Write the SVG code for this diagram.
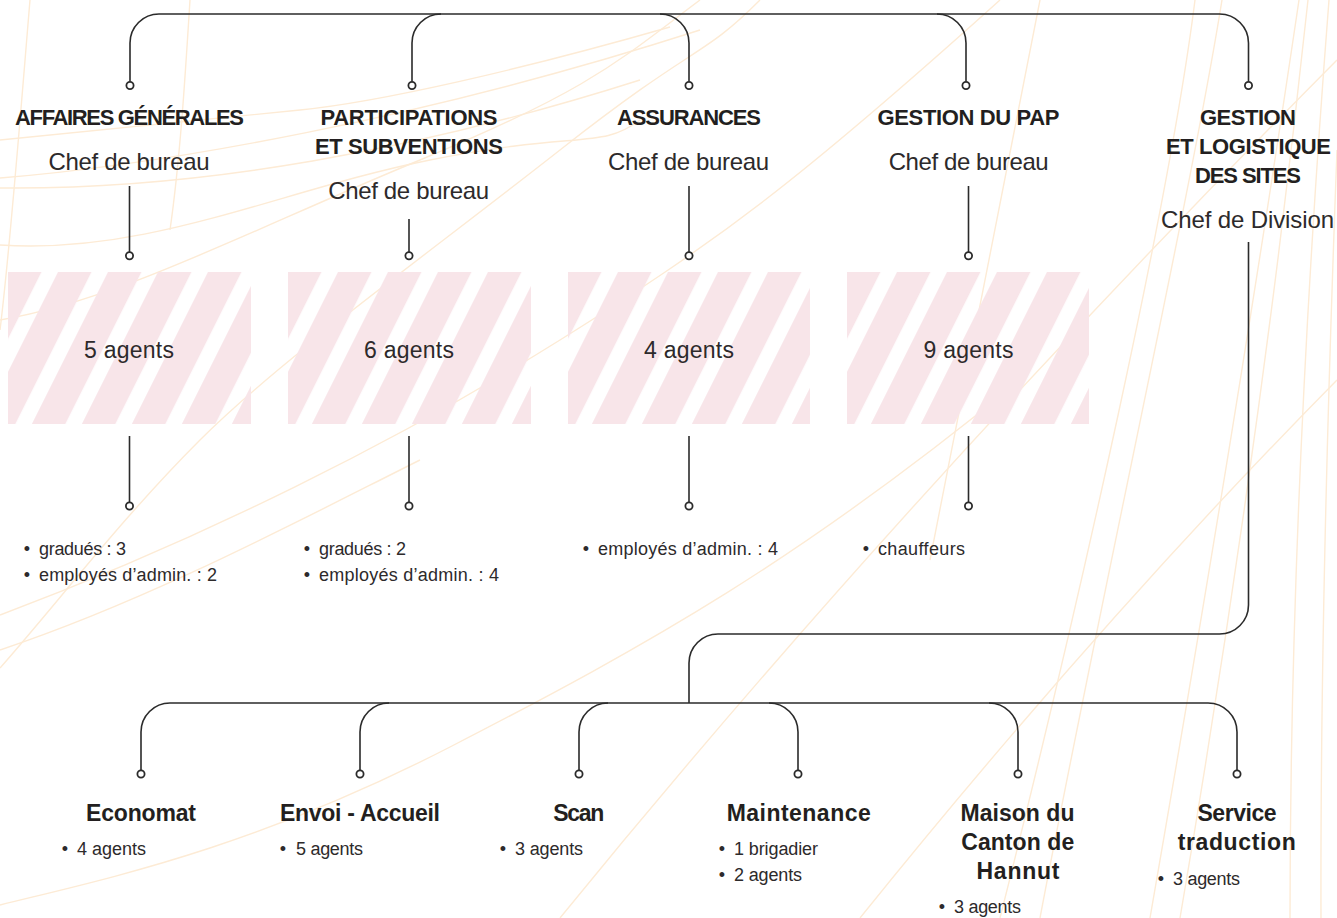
<svg xmlns="http://www.w3.org/2000/svg" width="1337" height="918" viewBox="0 0 1337 918">
<style>
.bg{fill:none;stroke:#fdebd5;stroke-width:1.4}
.ln{fill:none;stroke:#2b2b2b;stroke-width:1.6}
.dot{fill:#fff;stroke:#2b2b2b;stroke-width:1.8}
.t{font-family:"Liberation Sans",Arial,sans-serif;font-weight:bold;font-size:22px;fill:#231f20;text-anchor:middle}
.t2{font-family:"Liberation Sans",Arial,sans-serif;font-weight:bold;font-size:23px;fill:#231f20;text-anchor:middle}
.r{font-family:"Liberation Sans",Arial,sans-serif;font-size:24px;fill:#2d2a2b;text-anchor:middle}
.ag{font-family:"Liberation Sans",Arial,sans-serif;font-size:23px;fill:#2d2a2b;text-anchor:middle}
.b{font-family:"Liberation Sans",Arial,sans-serif;font-size:18px;fill:#2d2a2b}
.bu{font-family:"Liberation Sans",Arial,sans-serif;font-size:18px;fill:#2d2a2b;text-anchor:middle}
</style>
<defs>
<pattern id="stripes" patternUnits="userSpaceOnUse" width="44.7" height="60" patternTransform="rotate(26.6)">
<rect x="0" y="0" width="30" height="60" fill="#f8e5e9"/>
</pattern>
</defs>
<rect width="1337" height="918" fill="#ffffff"/>
<g id="background">
<path class="bg" d="M0,140 C120,128 220,118 300,110 S520,70 670,27"/>
<path class="bg" d="M0,178 C160,165 420,120 700,30"/>
<path class="bg" d="M0,188 C200,190 420,150 640,80"/>
<path class="bg" d="M0,320 C120,300 250,230 420,160 S620,60 700,0"/>
<path class="bg" d="M0,245 C150,255 280,190 430,160 S600,150 640,120"/>
<path class="bg" d="M30,0 C20,120 10,250 0,330"/>
<path class="bg" d="M190,0 C185,80 180,160 170,230"/>
<path class="bg" d="M0,668 C60,600 120,520 200,440 S420,260 560,150 S700,60 760,0"/>
<path class="bg" d="M0,615 C200,540 400,440 560,340 S800,180 1000,0"/>
<path class="bg" d="M0,650 C150,600 300,520 420,460"/>
<path class="bg" d="M0,905 C100,880 250,850 450,747 S800,560 1020,380"/>
<path class="bg" d="M560,918 Q900,500 1337,60"/>
<path class="bg" d="M860,918 Q1100,620 1337,380"/>
<path class="bg" d="M1195,0 C1170,200 1080,600 1000,918"/>
<path class="bg" d="M1222,0 C1190,200 1100,600 1040,918"/>
<path class="bg" d="M1299,0 Q1240,400 1150,918"/>
<path class="bg" d="M1308,0 Q1260,450 1180,918"/>
<path class="bg" d="M1329,0 Q1290,500 1290,918"/>
<path class="bg" d="M1337,150 Q1320,600 1321,918"/>
<path class="bg" d="M1040,0 C1000,200 960,400 930,560"/>
</g>
<g id="connectors">
<path class="ln" d="M130,81.5 V43 A29,29 0 0 1 159,14 H1219.5 A29,29 0 0 1 1248.5,43 V81.5"/>
<path class="ln" d="M412,81.5 V43 A29,29 0 0 1 441,14"/>
<path class="ln" d="M660,14 A29,29 0 0 1 689,43 V81.5"/>
<path class="ln" d="M937,14 A29,29 0 0 1 966,43 V81.5"/>
<path class="ln" d="M129.5,186 V252"/>
<path class="ln" d="M409,219 V252"/>
<path class="ln" d="M689,186 V252"/>
<path class="ln" d="M968.5,186 V252"/>
<path class="ln" d="M129.5,436 V502"/>
<path class="ln" d="M409,436 V502"/>
<path class="ln" d="M689,436 V502"/>
<path class="ln" d="M968.5,436 V502"/>
<path class="ln" d="M1248.5,242 V605 A29,29 0 0 1 1219.5,634 H718 A29,29 0 0 0 689,663 V703"/>
<path class="ln" d="M141,770 V732 A29,29 0 0 1 170,703 H1208 A29,29 0 0 1 1237,732 V770"/>
<path class="ln" d="M360,770 V732 A29,29 0 0 1 389,703"/>
<path class="ln" d="M579,770 V732 A29,29 0 0 1 608,703"/>
<path class="ln" d="M769,703 A29,29 0 0 1 798,732 V770"/>
<path class="ln" d="M989,703 A29,29 0 0 1 1018,732 V770"/>
<circle class="dot" cx="130" cy="85.5" r="3.6"/>
<circle class="dot" cx="412" cy="85.5" r="3.6"/>
<circle class="dot" cx="689" cy="85.5" r="3.6"/>
<circle class="dot" cx="966" cy="85.5" r="3.6"/>
<circle class="dot" cx="1248.5" cy="85.5" r="3.6"/>
<circle class="dot" cx="129.5" cy="255.7" r="3.6"/>
<circle class="dot" cx="409" cy="255.7" r="3.6"/>
<circle class="dot" cx="689" cy="255.7" r="3.6"/>
<circle class="dot" cx="968.5" cy="255.7" r="3.6"/>
<circle class="dot" cx="129.5" cy="506" r="3.6"/>
<circle class="dot" cx="409" cy="506" r="3.6"/>
<circle class="dot" cx="689" cy="506" r="3.6"/>
<circle class="dot" cx="968.5" cy="506" r="3.6"/>
<circle class="dot" cx="141" cy="774" r="3.6"/>
<circle class="dot" cx="360" cy="774" r="3.6"/>
<circle class="dot" cx="579" cy="774" r="3.6"/>
<circle class="dot" cx="798" cy="774" r="3.6"/>
<circle class="dot" cx="1018" cy="774" r="3.6"/>
<circle class="dot" cx="1237" cy="774" r="3.6"/>
</g>
<g id="node-affaires-generales">
<text class="t" x="129.5" y="125" textLength="229">AFFAIRES GÉNÉRALES</text>
<text class="r" x="129" y="170" textLength="161">Chef de bureau</text>
<g transform="translate(8,272)"><rect width="243" height="152" fill="url(#stripes)"/></g>
<text class="ag" x="129" y="358" textLength="90">5 agents</text>
<text class="bu" x="27" y="555">•</text><text class="b" x="39" y="555" textLength="87">gradués : 3</text>
<text class="bu" x="27" y="581">•</text><text class="b" x="39" y="581" textLength="178">employés d’admin. : 2</text>
</g>
<g id="node-participations">
<text class="t" x="409" y="125" textLength="177">PARTICIPATIONS</text>
<text class="t" x="409" y="154" textLength="188">ET SUBVENTIONS</text>
<text class="r" x="408.7" y="199" textLength="161">Chef de bureau</text>
<g transform="translate(288,272)"><rect width="243" height="152" fill="url(#stripes)"/></g>
<text class="ag" x="409" y="358" textLength="90">6 agents</text>
<text class="bu" x="307" y="555">•</text><text class="b" x="319" y="555" textLength="87">gradués : 2</text>
<text class="bu" x="307" y="581">•</text><text class="b" x="319" y="581" textLength="180">employés d’admin. : 4</text>
</g>
<g id="node-assurances">
<text class="t" x="689" y="125" textLength="144">ASSURANCES</text>
<text class="r" x="688.5" y="170" textLength="161">Chef de bureau</text>
<g transform="translate(568,272)"><rect width="242" height="152" fill="url(#stripes)"/></g>
<text class="ag" x="689" y="358" textLength="90">4 agents</text>
<text class="bu" x="586" y="555">•</text><text class="b" x="598" y="555" textLength="180">employés d’admin. : 4</text>
</g>
<g id="node-gestion-pap">
<text class="t" x="968.5" y="125" textLength="182">GESTION DU PAP</text>
<text class="r" x="968.7" y="170" textLength="160">Chef de bureau</text>
<g transform="translate(847,272)"><rect width="242" height="152" fill="url(#stripes)"/></g>
<text class="ag" x="968.5" y="358" textLength="90">9 agents</text>
<text class="bu" x="866" y="555">•</text><text class="b" x="878" y="555" textLength="87">chauffeurs</text>
</g>
<g id="node-gestion-logistique">
<text class="t" x="1248" y="125" textLength="96">GESTION</text>
<text class="t" x="1248.5" y="154" textLength="165">ET LOGISTIQUE</text>
<text class="t" x="1248" y="183" textLength="106">DES SITES</text>
<text class="r" x="1247.5" y="228" textLength="173">Chef de Division</text>
</g>
<g id="node-economat">
<text class="t2" x="141" y="821" textLength="110">Economat</text>
<text class="bu" x="65" y="855">•</text><text class="b" x="77" y="855" textLength="69">4 agents</text>
</g>
<g id="node-envoi-accueil">
<text class="t2" x="360" y="821" textLength="160">Envoi - Accueil</text>
<text class="bu" x="283" y="855">•</text><text class="b" x="296" y="855" textLength="67">5 agents</text>
</g>
<g id="node-scan">
<text class="t2" x="578.7" y="821" textLength="51">Scan</text>
<text class="bu" x="503" y="855">•</text><text class="b" x="515" y="855" textLength="68">3 agents</text>
</g>
<g id="node-maintenance">
<text class="t2" x="798.7" y="821" textLength="144">Maintenance</text>
<text class="bu" x="722" y="855">•</text><text class="b" x="734" y="855" textLength="84">1 brigadier</text>
<text class="bu" x="722" y="881">•</text><text class="b" x="734" y="881" textLength="68">2 agents</text>
</g>
<g id="node-maison-canton">
<text class="t2" x="1017.5" y="821" textLength="114">Maison du</text>
<text class="t2" x="1017.7" y="850" textLength="113">Canton de</text>
<text class="t2" x="1018" y="879" textLength="83">Hannut</text>
<text class="bu" x="942" y="913">•</text><text class="b" x="954" y="913" textLength="67">3 agents</text>
</g>
<g id="node-service-traduction">
<text class="t2" x="1237" y="821" textLength="79">Service</text>
<text class="t2" x="1236.7" y="850" textLength="118">traduction</text>
<text class="bu" x="1161" y="885">•</text><text class="b" x="1173" y="885" textLength="67">3 agents</text>
</g>
</svg>
